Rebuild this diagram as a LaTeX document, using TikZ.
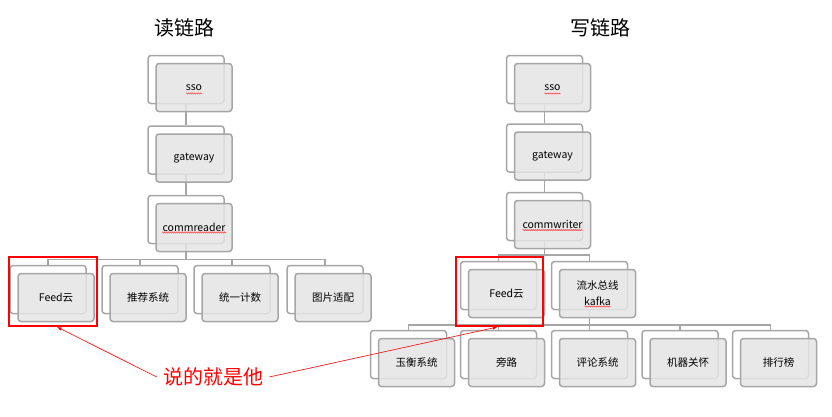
\documentclass[tikz,border=0pt]{standalone}
\usepackage{fontspec}
\setmainfont{Noto Sans CJK SC}
\usetikzlibrary{arrows,positioning,calc,decorations.pathmorphing}

\tikzset{
  backbox/.style={draw=gray!70, line width=1.5pt, rounded corners=3pt, fill=white,
    minimum width=76pt, minimum height=48pt, inner sep=0pt},
  frontbox/.style={backbox, fill=gray!20, fill opacity=0.85, text opacity=1,
    text=black, align=center, font=\fontsize{10.5}{16}\selectfont},
  link/.style={draw=gray!70, line width=1.5pt},
  selbox/.style={draw=red, line width=2pt, minimum height=69pt, inner sep=0pt},
  spell/.style={draw=red!80, line width=0.5pt, decorate,
    decoration={snake, segment length=2pt, amplitude=0.6pt}},
  title/.style={font=\fontsize{20}{24}\selectfont, text=black}
}

\begin{document}
\begin{tikzpicture}[x=1pt, y=-1pt]
            \useasboundingbox (0,0) rectangle (832,416);
            % read path
            \node[title] (ltitle) at (184,28) {读链路};
            \node[backbox] (lsso) at (186,79.5) {};
            \node[backbox] (lgw) at (186,150) {};
            \node[backbox] (lcr) at (186,219.5) {};
            \node[backbox] (lfeed) at (48,289.5) {};
            \node[backbox] (lrec) at (140,289.5) {};
            \node[backbox] (lcount) at (232,289.5) {};
            \node[backbox] (limg) at (325,289.5) {};
            \draw[link] (lsso.south) -- (lgw.north);
            \draw[link] (lgw.south) -- (lcr.north);
            \draw[link] (lcr.south) -- ++(0,15) -| (lfeed.north);
            \draw[link] (lcr.south) -- ++(0,15) -| (lrec.north);
            \draw[link] (lcr.south) -- ++(0,15) -| (lcount.north);
            \draw[link] (lcr.south) -- ++(0,15) -| (limg.north);
            \node[frontbox] (lssof) at ($(lsso)+(8,8)$) {sso};
            \node[frontbox] (lgwf) at ($(lgw)+(8,8)$) {gateway};
            \node[frontbox] (lcrf) at ($(lcr)+(8,8)$) {commreader};
            \node[frontbox] (lfeedf) at ($(lfeed)+(8,8)$) {Feed云};
            \node[frontbox] (lrecf) at ($(lrec)+(8,8)$) {推荐系统};
            \node[frontbox] (lcountf) at ($(lcount)+(8,8)$) {统一计数};
            \node[frontbox] (limgf) at ($(limg)+(8,8)$) {图片适配};
            \draw[spell] ($(lssof)+(-8,6)$) -- ++(16,0);
            \draw[spell] ($(lcrf)+(-32,5)$) -- ++(64,0);
            % write path
            \node[title] (rtitle) at (600,28) {写链路};
            \node[backbox] (rsso) at (544.5,79.5) {};
            \node[backbox] (rgw) at (544.5,148) {};
            \node[backbox] (rcw) at (544.5,216.5) {};
            \node[backbox] (rfeed) at (498.5,285.5) {};
            \node[backbox] (rkafka) at (589.5,285.5) {};
            \node[backbox] (ryh) at (408.5,354.5) {};
            \node[backbox] (rbypass) at (498.5,354.5) {};
            \node[backbox] (rcomment) at (589.5,354.5) {};
            \node[backbox] (rcare) at (680,354.5) {};
            \node[backbox] (rrank) at (770.5,354.5) {};
            \draw[link] (rsso.south) -- (rgw.north);
            \draw[link] (rgw.south) -- (rcw.north);
            \draw[link] (rcw.south) -- ++(0,13.5) -| (rfeed.north);
            \draw[link] (rcw.south) -- ++(0,13.5) -| (rkafka.north);
            \draw[link] (rkafka.south) -- ++(0,14.5) -| (ryh.north);
            \draw[link] (rkafka.south) -- ++(0,14.5) -| (rbypass.north);
            \draw[link] (rkafka.south) -- ++(0,14.5) -| (rcomment.north);
            \draw[link] (rkafka.south) -- ++(0,14.5) -| (rcare.north);
            \draw[link] (rkafka.south) -- ++(0,14.5) -| (rrank.north);
            \node[frontbox] (rssof) at ($(rsso)+(8,8)$) {sso};
            \node[frontbox] (rgwf) at ($(rgw)+(8,8)$) {gateway};
            \node[frontbox] (rcwf) at ($(rcw)+(8,8)$) {commwriter};
            \node[frontbox] (rfeedf) at ($(rfeed)+(8,8)$) {Feed云};
            \node[frontbox] (rkafkaf) at ($(rkafka)+(8,8)$) {流水总线\\kafka};
            \node[frontbox] (ryhf) at ($(ryh)+(8,8)$) {玉衡系统};
            \node[frontbox] (rbypassf) at ($(rbypass)+(8,8)$) {旁路};
            \node[frontbox] (rcommentf) at ($(rcomment)+(8,8)$) {评论系统};
            \node[frontbox] (rcaref) at ($(rcare)+(8,8)$) {机器关怀};
            \node[frontbox] (rrankf) at ($(rrank)+(8,8)$) {排行榜};
            \draw[spell] ($(rssof)+(-8,6)$) -- ++(16,0);
            \draw[spell] ($(rcwf)+(-30,5.5)$) -- ++(60,0);
            \draw[spell] ($(rkafkaf)+(-13,13)$) -- ++(26,0);
            % highlight
            \node[selbox, minimum width=88pt] (lsel) at (53,291.5) {};
            \node[selbox, minimum width=87pt] (rsel) at (499.5,291.5) {};
            \node[text=red, font=\fontsize{20}{24}\selectfont, inner sep=6pt] (say) at (213,377) {说的就是他};
            \draw[red, line width=0.6pt, -latex] (say.west) -- ([xshift=4pt]lsel.south);
            \draw[red, line width=0.6pt, -latex] (say.east) -- ([xshift=-2pt]rsel.south);
        \end{tikzpicture}
\end{document}
